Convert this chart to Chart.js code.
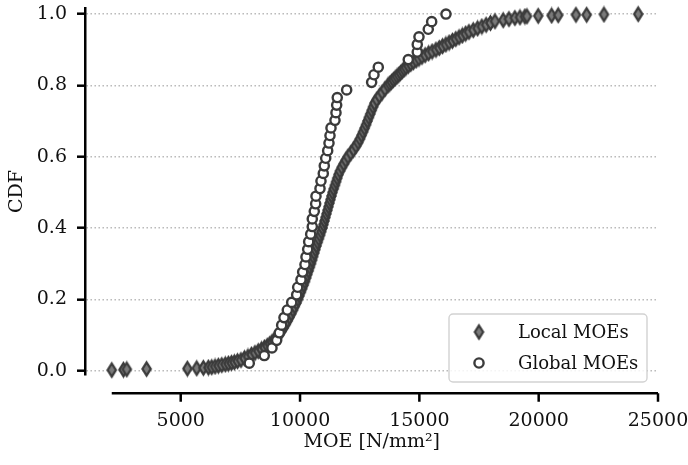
<!DOCTYPE html>
<html>
<head>
<meta charset="utf-8">
<title>MOE CDF</title>
<script src="https://cdn.jsdelivr.net/npm/chart.js@4.4.0/dist/chart.umd.min.js"></script>
<style>
  html, body { margin: 0; padding: 0; background: #fff; }
</style>
</head>
<body>
<canvas id="cdfChart" width="688" height="465"></canvas>
<script>
// local MOE readings [N/mm²] and their cumulative fraction
const localMoe = [
  2110, 2600, 2740, 3570, 5280, 5670, 5950, 6160, 6300, 6440, 6580, 6720, 6870, 7000, 7130, 7250, 7380,
  7525, 7672, 7819, 7965, 8112, 8250, 8384, 8510, 8627, 8732, 8824, 8908, 8983, 9046, 9105,
  9210, 9306, 9394, 9478, 9557, 9633, 9704, 9775, 9847, 9914,
  9972, 10031, 10090, 10148, 10207, 10257, 10307, 10358, 10408, 10458,
  10504, 10550, 10597, 10643, 10689, 10739, 10789, 10840, 10890, 10940,
  10982, 11024, 11066, 11108, 11150, 11191, 11233, 11275, 11317, 11359,
  11409, 11460, 11510, 11560, 11610, 11673, 11749, 11833, 11916, 12009,
  12126, 12239, 12344, 12436, 12511, 12578, 12641, 12704, 12767, 12826,
  12884, 12943, 13002, 13060, 13119, 13215, 13324, 13442, 13559, 13685,
  13760, 13835, 13911, 13986, 14062, 14137, 14212, 14288, 14363, 14439,
  14539, 14640, 14749, 14866, 14983, 15109, 15243, 15386, 15537, 15696,
  15834, 15972, 16111, 16249, 16387, 16525, 16664, 16802, 16940, 17078,
  17259, 17439, 17619, 17799, 17979, 18168,
  18515, 18754, 19005, 19215, 19424, 19508, 19982, 20543, 20820, 21562, 22010, 22735, 24172
];
const localCdf = [
  0.002, 0.003, 0.004, 0.005, 0.006, 0.007, 0.008, 0.009, 0.010, 0.012, 0.014, 0.016, 0.018, 0.020, 0.022, 0.024, 0.027,
  0.030, 0.035, 0.040, 0.045, 0.050, 0.055, 0.060, 0.065, 0.070, 0.075, 0.080, 0.085, 0.090, 0.095, 0.100,
  0.11, 0.12, 0.13, 0.14, 0.15, 0.16, 0.17, 0.18, 0.19, 0.20,
  0.21, 0.22, 0.23, 0.24, 0.25, 0.26, 0.27, 0.28, 0.29, 0.30,
  0.31, 0.32, 0.33, 0.34, 0.35, 0.36, 0.37, 0.38, 0.39, 0.40,
  0.41, 0.42, 0.43, 0.44, 0.45, 0.46, 0.47, 0.48, 0.49, 0.50,
  0.51, 0.52, 0.53, 0.54, 0.55, 0.56, 0.57, 0.58, 0.59, 0.60,
  0.61, 0.62, 0.63, 0.64, 0.65, 0.66, 0.67, 0.68, 0.69, 0.70,
  0.71, 0.72, 0.73, 0.74, 0.75, 0.76, 0.77, 0.78, 0.79, 0.80,
  0.805, 0.81, 0.815, 0.82, 0.825, 0.83, 0.835, 0.84, 0.845, 0.85,
  0.855, 0.86, 0.865, 0.87, 0.875, 0.88, 0.885, 0.89, 0.895, 0.90,
  0.905, 0.91, 0.915, 0.92, 0.925, 0.93, 0.935, 0.94, 0.945, 0.95,
  0.955, 0.96, 0.965, 0.97, 0.975, 0.98,
  0.983, 0.986, 0.989, 0.991, 0.993, 0.994, 0.995, 0.996, 0.997, 0.998, 0.998, 0.999, 1.000
];

// global MOE per board, sorted [N/mm²]
const globalMoe = [
  7873, 8502, 8824, 9021, 9130, 9230, 9327, 9466, 9650, 9859,
  9901, 10039, 10110, 10207, 10249, 10320, 10362, 10446, 10513, 10513,
  10597, 10655, 10668, 10836, 10877, 10974, 11016, 11075, 11158, 11213,
  11255, 11297, 11464, 11506, 11535, 11560, 11954, 13000, 13098, 13279,
  14535, 14912, 14912, 14984, 15373, 15516, 16115
];
// empirical CDF: rank / n
const globalCdf = globalMoe.map((v, i) => (i + 1) / globalMoe.length);

const xTicks = [5000, 10000, 15000, 20000, 25000];
const yTicks = [0, 0.2, 0.4, 0.6, 0.8, 1.0];

const FONT = 'DejaVu Serif';
const AXIS_SIZE = 19;
const LEGEND_SIZE = 18;
const INK = '#111';
const EDGE = '#3b3b3b';

// matplotlib-style thin diamond marker
function thinDiamond(w, h, lw) {
  const c = document.createElement('canvas');
  c.width = Math.ceil(w + lw + 2);
  c.height = Math.ceil(h + lw + 2);
  const g = c.getContext('2d');
  const cx = c.width / 2, cy = c.height / 2;
  g.beginPath();
  g.moveTo(cx, cy - h / 2);
  g.lineTo(cx + w / 2, cy);
  g.lineTo(cx, cy + h / 2);
  g.lineTo(cx - w / 2, cy);
  g.closePath();
  g.fillStyle = '#7a7a7a';
  g.fill();
  g.lineWidth = lw;
  g.strokeStyle = EDGE;
  g.stroke();
  return c;
}
const diamond = thinDiamond(8.2, 13, 2.3);

// bottom spine, pushed down below the plot area
const offsetXAxis = {
  id: 'offsetXAxis',
  afterDraw(chart) {
    const { ctx, chartArea, scales: { x } } = chart;
    const y0 = chartArea.bottom + 18.3;
    ctx.save();
    ctx.strokeStyle = '#000';
    ctx.lineWidth = 2.5;
    ctx.beginPath();
    ctx.moveTo(x.getPixelForValue(Math.min(...localMoe)), y0);
    ctx.lineTo(x.getPixelForValue(x.max), y0);
    xTicks.forEach(v => {
      const px = x.getPixelForValue(v);
      ctx.moveTo(px, y0);
      ctx.lineTo(px, y0 + 8.5);
    });
    ctx.stroke();
    ctx.restore();
  }
};

// legend box in the lower right corner
const cornerLegend = {
  id: 'cornerLegend',
  afterDraw(chart) {
    const ctx = chart.ctx;
    const bx = 449, by = 314, bw = 198, bh = 68;
    ctx.save();
    ctx.beginPath();
    ctx.roundRect(bx, by, bw, bh, 4);
    ctx.fillStyle = 'rgba(255,255,255,0.85)';
    ctx.fill();
    ctx.lineWidth = 1.4;
    ctx.strokeStyle = '#d2d2d2';
    ctx.stroke();

    const mx = 479;
    const rows = [332, 363];
    ctx.drawImage(diamond, mx - diamond.width / 2, rows[0] - diamond.height / 2);
    ctx.beginPath();
    ctx.arc(mx, rows[1], 4.6, 0, Math.PI * 2);
    ctx.fillStyle = '#fff';
    ctx.fill();
    ctx.lineWidth = 2.4;
    ctx.strokeStyle = EDGE;
    ctx.stroke();

    ctx.font = LEGEND_SIZE + 'px "' + FONT + '"';
    ctx.fillStyle = INK;
    ctx.textBaseline = 'middle';
    ctx.textAlign = 'left';
    chart.data.datasets.forEach((ds, i) => ctx.fillText(ds.label, 518, rows[i] + 1));
    ctx.restore();
  }
};

new Chart(document.getElementById('cdfChart'), {
  type: 'scatter',
  data: {
    datasets: [
      {
        label: 'Local MOEs',
        data: localMoe.map((v, i) => ({ x: v, y: localCdf[i] })),
        pointStyle: diamond,
        order: 2,
        clip: false
      },
      {
        label: 'Global MOEs',
        data: globalMoe.map((v, i) => ({ x: v, y: globalCdf[i] })),
        pointStyle: 'circle',
        radius: 4.6,
        borderWidth: 2.4,
        borderColor: EDGE,
        backgroundColor: '#fff',
        order: 1,
        clip: false
      }
    ]
  },
  options: {
    responsive: false,
    animation: false,
    events: [],
    layout: { padding: { left: 0, right: 30, top: 8, bottom: 0 } },
    plugins: { legend: { display: false }, tooltip: { enabled: false } },
    scales: {
      x: {
        type: 'linear',
        min: 1010,
        max: 25000,
        afterBuildTicks: s => { s.ticks = xTicks.map(v => ({ value: v })); },
        afterFit: s => { s.height = 90; s.paddingLeft = 0; s.paddingRight = 0; },
        border: { display: false },
        grid: { display: false, drawTicks: false },
        ticks: {
          padding: 34.5,
          color: INK,
          font: { family: FONT, size: AXIS_SIZE },
          maxRotation: 0,
          callback: v => String(v)
        },
        title: {
          display: true,
          text: 'MOE [N/mm²]',
          color: INK,
          font: { family: FONT, size: AXIS_SIZE },
          padding: { top: 0, bottom: 11.6 }
        }
      },
      y: {
        type: 'linear',
        min: -0.012,
        max: 1.017,
        afterBuildTicks: s => { s.ticks = yTicks.map(v => ({ value: v })); },
        afterFit: s => { s.width = 85.5; s.paddingTop = 0; s.paddingBottom = 0; },
        border: { display: true, color: '#000', width: 2.5, dash: [1.4, 2.6] },
        grid: {
          color: '#b4b4b4',
          lineWidth: 1.4,
          drawTicks: true,
          tickLength: 8.5,
          tickColor: '#000',
          tickWidth: 2.5,
          tickBorderDash: []
        },
        ticks: {
          padding: 10,
          color: INK,
          font: { family: FONT, size: AXIS_SIZE },
          callback: v => v.toFixed(1)
        },
        title: {
          display: true,
          text: 'CDF',
          color: INK,
          font: { family: FONT, size: AXIS_SIZE },
          padding: { top: 6.1, bottom: 0 }
        }
      }
    }
  },
  plugins: [offsetXAxis, cornerLegend]
});
</script>
</body>
</html>
